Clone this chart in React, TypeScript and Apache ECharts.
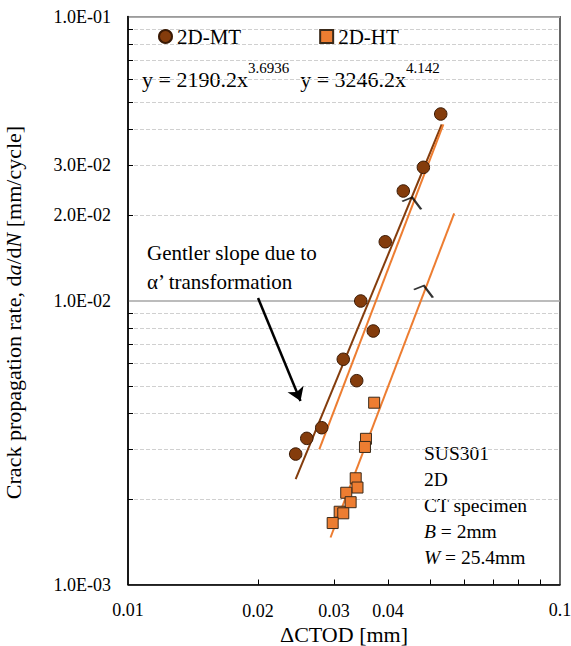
import React, { useEffect, useRef } from 'react';
import * as echarts from 'echarts';

// ---- data ----
const mtCtod = [0.05295, 0.04828, 0.04338, 0.0394, 0.03457, 0.03696, 0.0315, 0.03384, 0.02808, 0.02593, 0.02444];
const mtRate = [0.04536, 0.02944, 0.0243, 0.0161, 0.00996, 0.00781, 0.00621, 0.00522, 0.003565, 0.00327, 0.00288];
const htCtod = [0.03714, 0.03555, 0.03536, 0.03366, 0.03398, 0.032, 0.03276, 0.0309, 0.0315, 0.02977];
const htRate = [0.004366, 0.003258, 0.00305, 0.002366, 0.002195, 0.002104, 0.001949, 0.001804, 0.001781, 0.001646];

const mtFitCtod = [0.02444, 0.05324];
const mtFitRate = [0.002352, 0.04166];
const shiftFitCtod = [0.02772, 0.0537];
const shiftFitRate = [0.002993, 0.04173];
const htFitCtod = [0.02943, 0.0569];
const htFitRate = [0.001464, 0.02028];

const chevronCtod = [0.04536, 0.04828];
const chevronRate = [0.02199, 0.01074];
const arrowCtod = [0.02, 0.02508];
const arrowRate = [0.0102, 0.004426];

const xTickValues = [0.01, 0.02, 0.03, 0.04, 0.1];
const xTickLabels = ['0.01', '0.02', '0.03', '0.04', '0.1'];
const yTickValues = [0.001, 0.002, 0.003, 0.01, 0.02, 0.03, 0.1];
const yTickLabels = ['1.0E-03', '2.0E-03', '3.0E-03', '1.0E-02', '2.0E-02', '3.0E-02', '1.0E-01'];

const seriesNames = ['2D-MT', '2D-HT'];
const equationTexts = ['y = 2190.2x', '3.6936', 'y = 3246.2x', '4.142'];
const noteLines = ['Gentler slope due to', 'α’ transformation'];
const infoLines = ['SUS301', '2D', 'CT specimen'];

const FONT = "'Liberation Serif', 'Times New Roman', serif";
const BROWN = '#843C0C';
const ORANGE = '#ED7D31';

const isPow10 = (v: number) => Math.abs(Math.log10(v) - Math.round(Math.log10(v))) < 1e-6;
const findLabel = (vals: number[], labels: string[], v: number) => {
  const i = vals.findIndex((t) => Math.abs(Math.log10(t) - Math.log10(v)) < 1e-6);
  return i >= 0 ? labels[i] : '';
};
const zip = (a: number[], b: number[]) => a.map((v, i) => [v, b[i]]);

export default function App() {
  const ref = useRef<HTMLDivElement>(null);
  useEffect(() => {
    if (!ref.current) return;
    const chart = echarts.init(ref.current, undefined, { renderer: 'svg' });

    const yExtraLines = yTickValues
      .filter((v) => !isPow10(v))
      .map((v) => ({
        yAxis: v,
        label: {
          show: true,
          position: 'start',
          distance: 17,
          formatter: findLabel(yTickValues, yTickLabels, v),
          fontFamily: FONT,
          fontSize: 18,
          color: '#000',
        },
      }));
    const xExtraLines = xTickValues
      .filter((v) => !isPow10(v))
      .map((v) => ({
        xAxis: v,
        label: {
          show: true,
          position: 'start',
          distance: 17,
          formatter: findLabel(xTickValues, xTickLabels, v),
          fontFamily: FONT,
          fontSize: 18,
          color: '#000',
        },
      }));

    const fitLine = (name: string, xs: number[], ys: number[], color: string) => ({
      name,
      type: 'line',
      data: zip(xs, ys),
      symbol: 'none',
      showSymbol: false,
      silent: true,
      lineStyle: { color, width: 2 },
      itemStyle: { color },
      z: 2,
    });

    const option: any = {
      animation: false,
      backgroundColor: '#ffffff',
      grid: {
        left: 128,
        right: 11,
        top: 16.5,
        bottom: 61.5,
        show: true,
        borderColor: '#000',
        borderWidth: 1.2,
        containLabel: false,
        outerBoundsMode: 'none',
      },
      legend: {
        data: seriesNames,
        left: 153,
        top: 21,
        itemGap: 78,
        itemWidth: 13,
        itemHeight: 13,
        textStyle: { fontFamily: FONT, fontSize: 21, color: '#000' },
        selectedMode: false,
      },
      xAxis: {
        type: 'log',
        logBase: 10,
        min: 0.01,
        max: 0.1,
        name: 'ΔCTOD [mm]',
        nameLocation: 'middle',
        nameGap: 32,
        nameTextStyle: { fontFamily: FONT, fontSize: 22, color: '#000' },
        axisLine: { show: true, lineStyle: { color: '#000', width: 1.5 } },
        axisTick: { show: false, inside: true },
        minorTick: { show: true, splitNumber: 9, length: 5, lineStyle: { color: '#000', width: 1 } },
        axisLabel: {
          formatter: (v: number) => findLabel(xTickValues, xTickLabels, v),
          fontFamily: FONT,
          fontSize: 18,
          color: '#000',
          margin: 16,
        },
        splitLine: { show: false },
        minorSplitLine: { show: false },
      },
      yAxis: {
        type: 'log',
        logBase: 10,
        min: 0.001,
        max: 0.1,
        name: '{n|Crack propagation rate, d}{i|a}{n|/d}{i|N}{n| [mm/cycle]}',
        nameLocation: 'middle',
        nameRotate: 90,
        nameGap: 104,
        nameTextStyle: {
          fontFamily: FONT,
          fontSize: 22,
          color: '#000',
          padding: [0, 24, 0, 0],
          rich: {
            n: { fontFamily: FONT, fontSize: 22, color: '#000' },
            i: { fontFamily: FONT, fontSize: 22, color: '#000', fontStyle: 'italic' },
          },
        },
        axisLine: { show: true, lineStyle: { color: '#000', width: 1.5 } },
        axisTick: { show: false, inside: true },
        minorTick: { show: true, splitNumber: 9, length: 5, lineStyle: { color: '#000', width: 1 } },
        axisLabel: {
          formatter: (v: number) => findLabel(yTickValues, yTickLabels, v),
          fontFamily: FONT,
          fontSize: 18,
          color: '#000',
          margin: 17,
        },
        splitLine: { show: true, lineStyle: { color: '#A6A6A6', width: 1.5 } },
        minorSplitLine: { show: true, lineStyle: { color: '#D0D0D0', width: 1, type: 'dashed' } },
      },
      series: [
        fitLine('MT fit', mtFitCtod, mtFitRate, BROWN),
        fitLine('MT shifted', shiftFitCtod, shiftFitRate, ORANGE),
        fitLine('HT fit', htFitCtod, htFitRate, ORANGE),
        {
          name: seriesNames[0],
          type: 'scatter',
          data: zip(mtCtod, mtRate),
          symbol: 'circle',
          symbolSize: 12.5,
          itemStyle: { color: BROWN, borderColor: '#3A1A05', borderWidth: 1, opacity: 1 },
          z: 3,
          markLine: {
            silent: true,
            symbol: 'none',
            lineStyle: { color: 'rgba(0,0,0,0)', width: 0 },
            data: [...yExtraLines, ...xExtraLines],
          },
        },
        {
          name: seriesNames[1],
          type: 'scatter',
          data: zip(htCtod, htRate),
          symbol: 'rect',
          symbolSize: 11,
          itemStyle: { color: ORANGE, borderColor: '#3A2A1A', borderWidth: 1, opacity: 1 },
          z: 3,
        },
        {
          name: 'marks',
          type: 'scatter',
          data: zip(chevronCtod, chevronRate),
          symbol: 'path://M0,4 L10,0 L19,12',
          symbolSize: [19, 12],
          silent: true,
          itemStyle: { color: 'rgba(0,0,0,0)', borderColor: '#000', borderWidth: 2 },
          z: 4,
          markLine: {
            silent: true,
            symbolSize: 13,
            lineStyle: { color: '#000', width: 2.5, type: 'solid' },
            label: { show: false },
            data: [
              [
                { coord: [arrowCtod[0], arrowRate[0]], symbol: 'none' },
                { coord: [arrowCtod[1], arrowRate[1]], symbol: 'arrow' },
              ],
            ],
          },
        },
      ],
      graphic: [
        {
          type: 'text',
          left: 142,
          top: 60,
          silent: true,
          style: {
            text: `{n|${equationTexts[0]}}{s|${equationTexts[1]}}{n|  ${equationTexts[2]}}{s|${equationTexts[3]}}`,
            rich: {
              n: { fontFamily: FONT, fontSize: 22, fill: '#000', lineHeight: 30, verticalAlign: 'bottom' },
              s: { fontFamily: FONT, fontSize: 15, fill: '#000', lineHeight: 17, verticalAlign: 'top' },
            },
          },
        },
        {
          type: 'text',
          left: 147,
          top: 238,
          silent: true,
          style: {
            text: noteLines.join('\n'),
            fontFamily: FONT,
            fontSize: 21,
            lineHeight: 29,
            fill: '#000',
          },
        },
        {
          type: 'text',
          left: 424,
          top: 443,
          silent: true,
          style: {
            text: `{n|${infoLines.join('}\n{n|')}}\n{i|B}{n| = 2mm}\n{i|W}{n| = 25.4mm}`,
            rich: {
              n: { fontFamily: FONT, fontSize: 19.5, fill: '#000', lineHeight: 26 },
              i: { fontFamily: FONT, fontSize: 19.5, fill: '#000', lineHeight: 26, fontStyle: 'italic' },
            },
          },
        },
      ],
    };

    chart.setOption(option);
    return () => chart.dispose();
  }, []);

  return (
    <div
      ref={ref}
      style={{ position: 'absolute', left: 0, top: 0, width: 571, height: 646, background: '#fff' }}
    />
  );
}
